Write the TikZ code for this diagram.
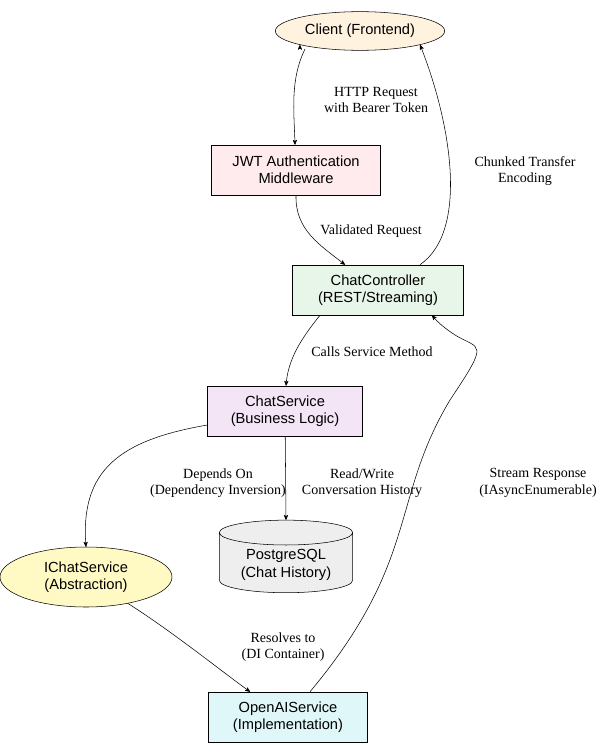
\documentclass[tikz,border=0pt]{standalone}
\usepackage{fontspec}
\setmainfont{Liberation Serif}
\newfontfamily\boxfont{Liberation Sans}
\usetikzlibrary{shapes.geometric, positioning, arrows}
\definecolor{clientfill}{HTML}{FFF3E0}
\definecolor{jwtfill}{HTML}{FFEBEE}
\definecolor{ctrlfill}{HTML}{E8F5E9}
\definecolor{svcfill}{HTML}{F3E5F5}
\definecolor{ifacefill}{HTML}{FFF9C4}
\definecolor{dbfill}{HTML}{EEEEEE}
\definecolor{implfill}{HTML}{E0F7FA}
\tikzset{
->, % directed edges
>=stealth', % arrow heads
every node/.style={font=\fontsize{10.5}{12.5}\selectfont},
comp/.style={draw, rectangle, align=center, font=\boxfont\fontsize{11}{13}\selectfont, minimum height=37.5pt, inner xsep=6pt},
oval/.style={draw, ellipse, align=center, font=\boxfont\fontsize{11}{13}\selectfont},
db/.style={draw, cylinder, shape border rotate=90, aspect=0.25, align=center, font=\boxfont\fontsize{11}{13}\selectfont, minimum width=100pt, minimum height=52pt},
lbl/.style={align=center},
}
\begin{document}
\begin{tikzpicture}[x=0.75pt, y=-0.75pt]
    \useasboundingbox (0,0) rectangle (613,749);
    % components
    \node[oval, fill=clientfill, minimum width=127pt, minimum height=29pt] (client) at (360,31) {Client (Frontend)};
    \node[comp, fill=jwtfill, minimum width=127pt] (jwt) at (296,170) {JWT Authentication\\Middleware};
    \node[comp, fill=ctrlfill, minimum width=128pt] (ctrl) at (378,290) {ChatController\\(REST/Streaming)};
    \node[comp, fill=svcfill, minimum width=116pt] (svc) at (285,411) {ChatService\\(Business Logic)};
    \node[oval, fill=ifacefill, minimum width=129pt, minimum height=45pt] (iface) at (86,577) {IChatService\\(Abstraction)};
    \node[db, fill=dbfill] (db) at (286,565) {PostgreSQL\\(Chat History)};
    \node[comp, fill=implfill, minimum width=119pt] (impl) at (288,717) {OpenAIService\\(Implementation)};
    % connectors
    \draw (client.south west) ++(0,0) coordinate (c1);
    \draw (305,49) .. controls (290,80) and (294,110) .. (jwt.north -| 295,0);
    \draw (jwt) ++(0,25) .. controls (295,230) and (320,245) .. (ctrl.north -| 345,0);
    \draw (ctrl.north -| 420,0) .. controls (470,230) and (450,120) .. (client.south east);
    \draw (ctrl.south -| 320,0) .. controls (300,340) and (288,360) .. (svc.north -| 286,0);
    \draw (svc.west |- 0,425) .. controls (120,440) and (80,470) .. (iface.north);
    \draw (svc) -- (db.north);
    \draw (iface) .. controls (170,630) and (220,670) .. (impl.north -| 250,0);
    \draw (impl.north -| 310,0) .. controls (420,560) and (390,500) .. (450,400)
        .. controls (490,340) and (480,350) .. (455,335)
        .. controls (440,325) and (436,320) .. (ctrl.south -| 432,0);
    % labels
    \node[lbl] (l1) at (376,100) {HTTP Request\\with Bearer Token};
    \node[lbl] (l2) at (371,231) {Validated Request};
    \node[lbl] (l3) at (525,171) {Chunked Transfer\\Encoding};
    \node[lbl] (l4) at (372,352) {Calls Service Method};
    \node[lbl] (l5) at (218,483) {Depends On\\(Dependency Inversion)};
    \node[lbl] (l6) at (362,483) {Read/Write\\Conversation History};
    \node[lbl] (l7) at (283,647) {Resolves to\\(DI Container)};
    \node[lbl] (l8) at (538,483) {Stream Response\\(IAsyncEnumerable)};
\end{tikzpicture}
\end{document}
